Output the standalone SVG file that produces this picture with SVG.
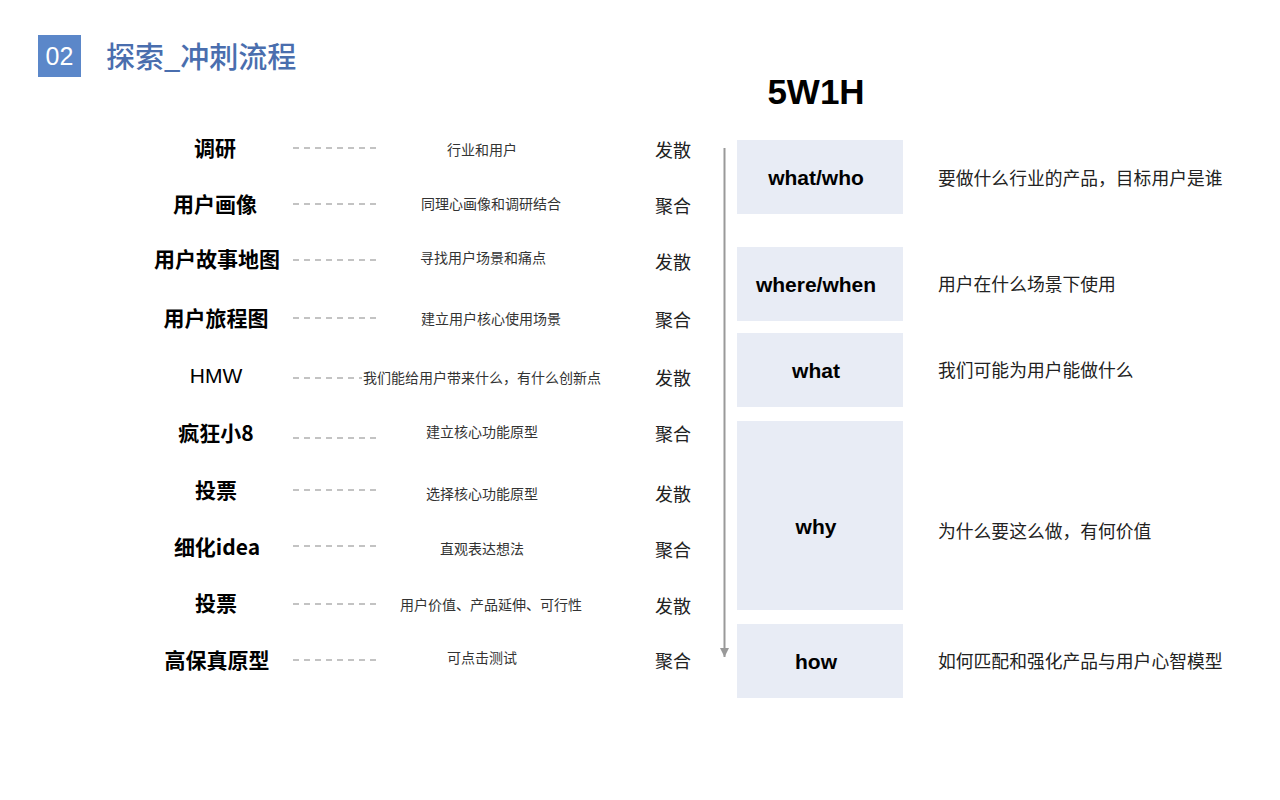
<svg xmlns="http://www.w3.org/2000/svg" width="1280" height="800" viewBox="0 0 1280 800">
<defs>
<style>
.step{font-family:"Noto Sans CJK SC","Liberation Sans",sans-serif;font-weight:bold;font-size:21px;fill:#000;text-anchor:middle;dominant-baseline:central}
.hmw{font-family:"Liberation Sans",Arial,sans-serif;font-weight:normal;font-size:21px;fill:#000;text-anchor:middle;dominant-baseline:central}
.desc{font-family:"Noto Sans CJK SC","Liberation Sans",sans-serif;font-size:14px;fill:#333;text-anchor:middle;dominant-baseline:central}
.mode{font-family:"Noto Sans CJK SC",sans-serif;font-size:18px;fill:#222;text-anchor:middle;dominant-baseline:central}
.dash{stroke:#888;stroke-width:1.2;stroke-dasharray:6 5;fill:none}
.box{fill:#e8ecf5}
.wlab{font-family:"Liberation Sans",Arial,sans-serif;font-weight:bold;font-size:21px;fill:#000;text-anchor:middle;dominant-baseline:central}
.wdesc{font-family:"Noto Sans CJK SC",sans-serif;font-size:17.8px;fill:#222;dominant-baseline:central}
</style>
<marker id="arr" viewBox="0 0 10 10" refX="10" refY="5" markerWidth="9" markerHeight="9" markerUnits="userSpaceOnUse" orient="auto">
<path d="M0,0 L10,5 L0,10 z" fill="#999"/>
</marker>
</defs>
<rect width="1280" height="800" fill="#fff"/>

<g id="header">
<rect x="38" y="35" width="43" height="42" fill="#5b87c9"/>
<text x="59.5" y="56" font-family="'Liberation Sans',Arial,sans-serif" font-size="25" fill="#fff" text-anchor="middle" dominant-baseline="central">02</text>
<text x="106" y="55" font-family="'Noto Sans CJK SC',sans-serif" font-size="29" font-weight="500" fill="#4a6eae" dominant-baseline="central">探索_冲刺流程</text>
</g>

<g id="title5w1h">
<text x="816" y="91" font-family="'Liberation Sans',Arial,sans-serif" font-weight="bold" font-size="35" fill="#000" text-anchor="middle" dominant-baseline="central">5W1H</text>
</g>

<g id="connectors">
<line class="dash" x1="293" y1="148" x2="378" y2="148"/>
<line class="dash" x1="293" y1="204" x2="378" y2="204"/>
<line class="dash" x1="293" y1="260" x2="378" y2="260"/>
<line class="dash" x1="293" y1="318" x2="378" y2="318"/>
<line class="dash" x1="293" y1="378" x2="362" y2="378"/>
<line class="dash" x1="293" y1="438" x2="378" y2="438"/>
<line class="dash" x1="293" y1="490" x2="378" y2="490"/>
<line class="dash" x1="293" y1="546" x2="378" y2="546"/>
<line class="dash" x1="293" y1="604" x2="378" y2="604"/>
<line class="dash" x1="293" y1="660" x2="378" y2="660"/>
<line x1="724.5" y1="148" x2="724.5" y2="657" stroke="#999" stroke-width="2" marker-end="url(#arr)"/>
</g>

<g id="step1"><text class="step" x="215" y="147">调研</text><text class="desc" x="482" y="149">行业和用户</text><text class="mode" x="673" y="149">发散</text></g>
<g id="step2"><text class="step" x="215" y="203">用户画像</text><text class="desc" x="491" y="203">同理心画像和调研结合</text><text class="mode" x="673" y="205">聚合</text></g>
<g id="step3"><text class="step" x="217" y="258">用户故事地图</text><text class="desc" x="483" y="257">寻找用户场景和痛点</text><text class="mode" x="673" y="261">发散</text></g>
<g id="step4"><text class="step" x="216" y="317">用户旅程图</text><text class="desc" x="491" y="318">建立用户核心使用场景</text><text class="mode" x="673" y="319">聚合</text></g>
<g id="step5"><text class="hmw" x="216" y="375">HMW</text><text class="desc" x="482" y="377">我们能给用户带来什么，有什么创新点</text><text class="mode" x="673" y="377">发散</text></g>
<g id="step6"><text class="step" x="216" y="432">疯狂小8</text><text class="desc" x="482" y="431">建立核心功能原型</text><text class="mode" x="673" y="433">聚合</text></g>
<g id="step7"><text class="step" x="216" y="489">投票</text><text class="desc" x="482" y="493">选择核心功能原型</text><text class="mode" x="673" y="493">发散</text></g>
<g id="step8"><text class="step" x="217" y="546">细化idea</text><text class="desc" x="482" y="548">直观表达想法</text><text class="mode" x="673" y="549">聚合</text></g>
<g id="step9"><text class="step" x="216" y="602">投票</text><text class="desc" x="491" y="604">用户价值、产品延伸、可行性</text><text class="mode" x="673" y="605">发散</text></g>
<g id="step10"><text class="step" x="217" y="659">高保真原型</text><text class="desc" x="482" y="657">可点击测试</text><text class="mode" x="673" y="660">聚合</text></g>

<g id="w-whatwho"><rect class="box" x="737" y="140" width="166" height="74"/><text class="wlab" x="816" y="177">what/who</text><text class="wdesc" x="938" y="177">要做什么行业的产品，目标用户是谁</text></g>
<g id="w-wherewhen"><rect class="box" x="737" y="247" width="166" height="74"/><text class="wlab" x="816" y="284">where/when</text><text class="wdesc" x="938" y="283">用户在什么场景下使用</text></g>
<g id="w-what"><rect class="box" x="737" y="333" width="166" height="74"/><text class="wlab" x="816" y="370">what</text><text class="wdesc" x="938" y="369">我们可能为用户能做什么</text></g>
<g id="w-why"><rect class="box" x="737" y="421" width="166" height="189"/><text class="wlab" x="816" y="526">why</text><text class="wdesc" x="938" y="530">为什么要这么做，有何价值</text></g>
<g id="w-how"><rect class="box" x="737" y="624" width="166" height="74"/><text class="wlab" x="816" y="661">how</text><text class="wdesc" x="938" y="660">如何匹配和强化产品与用户心智模型</text></g>
</svg>
